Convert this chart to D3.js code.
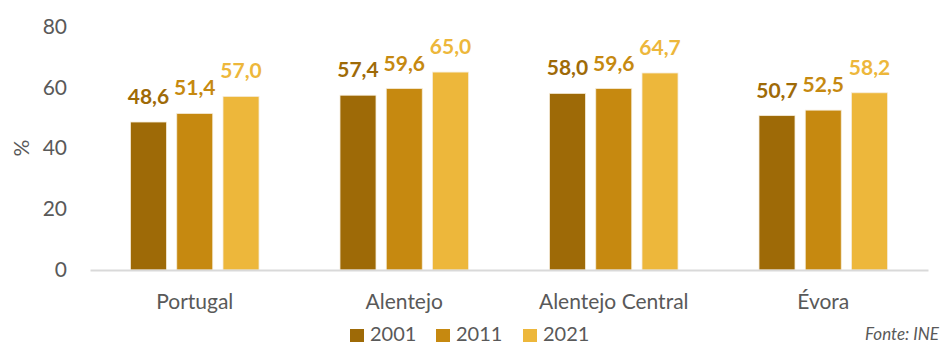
<!DOCTYPE html>
<html>
<head>
<meta charset="utf-8">
<script src="https://cdn.jsdelivr.net/npm/d3@7"></script>
<style>
  html, body { margin: 0; padding: 0; background: #fff; }
  svg { display: block; }
  text { font-family: Lato, "Open Sans", sans-serif; }
</style>
</head>
<body>
<svg id="chart" width="941" height="345"></svg>
<script>
// Share of population, by region and census year (%)
const categories = ["Portugal", "Alentejo", "Alentejo Central", "Évora"];
const years = ["2001", "2011", "2021"];
const values2001 = [48.6, 57.4, 58.0, 50.7];
const values2011 = [51.4, 59.6, 59.6, 52.5];
const values2021 = [57.0, 65.0, 64.7, 58.2];
const yTicks = [0, 20, 40, 60, 80];
const colors = ["#9E6A07", "#C68910", "#EDB73B"];

const seriesValues = [values2001, values2011, values2021];
const rows = categories.map((c, i) => ({
  category: c,
  bars: years.map((y, j) => ({ year: y, value: seriesValues[j][i], color: colors[j] }))
}));

const svg = d3.select("#chart");
const fmt = v => d3.format(".1f")(v).replace(".", ",");

const x0 = d3.scaleBand().domain(categories).range([90, 928]).padding(0);
const x1 = d3.scaleBand().domain(years)
  .range([40.5, x0.bandwidth() - 40.5]).paddingInner(0.222).paddingOuter(0);
const y = d3.scaleLinear().domain([0, 80]).range([270, 26.4]);

// y axis labels (no axis line)
const yAxis = svg.append("g").attr("transform", "translate(67,0)")
  .call(d3.axisLeft(y).tickValues(yTicks).tickSize(0).tickPadding(0));
yAxis.select(".domain").remove();
yAxis.selectAll("text")
  .attr("fill", "#595959").attr("font-size", 21)
  .attr("font-family", "Lato, 'Open Sans', sans-serif");

svg.append("text")
  .attr("transform", "translate(20,148) rotate(-90)")
  .attr("text-anchor", "middle").attr("dominant-baseline", "central")
  .attr("fill", "#595959").attr("font-size", 21).text("%");

// bars
const groups = svg.append("g").selectAll("g").data(rows).join("g")
  .attr("transform", d => `translate(${x0(d.category)},0)`);

groups.selectAll("rect").data(d => d.bars).join("rect")
  .attr("x", d => x1(d.year))
  .attr("width", x1.bandwidth())
  .attr("y", d => y(d.value))
  .attr("height", d => y(0) - y(d.value))
  .attr("fill", d => d.color)
  .attr("stroke", "#f6ecd8").attr("stroke-width", 0.8);

groups.selectAll("text.val").data(d => d.bars).join("text")
  .attr("class", "val")
  .attr("x", d => x1(d.year) + x1.bandwidth() / 2)
  .attr("y", d => y(d.value) - 18)
  .attr("text-anchor", "middle")
  .attr("fill", d => d.color)
  .attr("font-size", 21).attr("font-weight", 700)
  .text(d => fmt(d.value));

// x axis
const xAxis = svg.append("g").attr("transform", "translate(0,270)")
  .call(d3.axisBottom(x0).tickSize(0).tickPadding(0));
xAxis.select(".domain").attr("stroke", "#d9d9d9").attr("stroke-width", 2);
xAxis.selectAll("text")
  .attr("y", 32).attr("dy", "0.35em")
  .attr("fill", "#595959").attr("font-size", 21)
  .attr("font-family", "Lato, 'Open Sans', sans-serif");

// legend
const legendX = [350, 436, 523];
const legend = svg.append("g").selectAll("g").data(years).join("g")
  .attr("transform", (d, i) => `translate(${legendX[i]},329)`);
legend.append("rect").attr("width", 14).attr("height", 13)
  .attr("fill", (d, i) => colors[i]);
legend.append("text").attr("x", 20).attr("y", 5).attr("dy", "0.35em")
  .attr("fill", "#595959").attr("font-size", 20).text(d => d);

svg.append("text")
  .attr("x", 939).attr("y", 334).attr("dy", "0.35em")
  .attr("text-anchor", "end").attr("font-style", "italic")
  .attr("fill", "#595959").attr("font-size", 17).text("Fonte: INE");
</script>
</body>
</html>
